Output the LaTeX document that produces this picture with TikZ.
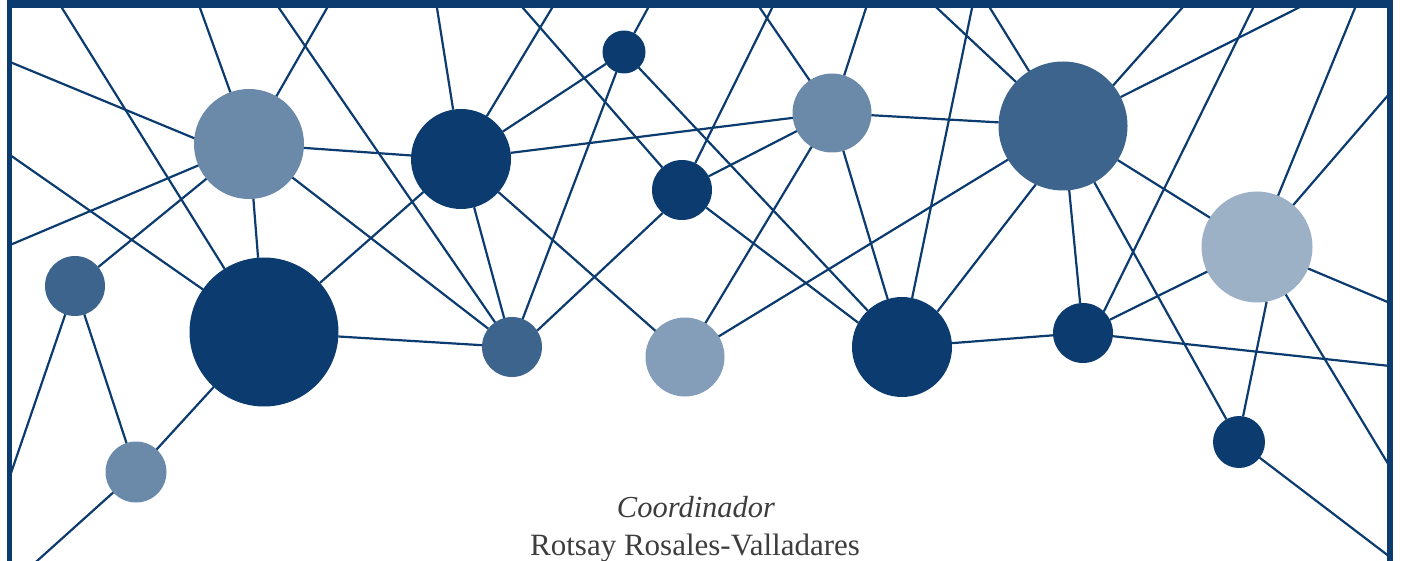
\documentclass[tikz,border=0pt]{standalone}
\usepackage{fontspec}
\setmainfont{Liberation Serif}
\definecolor{dk}{HTML}{0B3B6F}
\definecolor{md}{HTML}{3C648C}
\definecolor{lm}{HTML}{6B8AAA}
\definecolor{lt}{HTML}{849DB8}
\definecolor{xl}{HTML}{9DB1C6}
\definecolor{txt}{HTML}{3D3D3D}
\begin{document}
\begin{tikzpicture}[x=1pt,y=-1pt,
  dot/.style={circle,inner sep=0pt,outer sep=0pt,draw=none},
  ln/.style={draw=dk,line width=2.2pt},
  bl/.style={ln,shorten <=-5pt}]
\useasboundingbox (0,0) rectangle (1402,561);
% nodes
\node[dot,fill=lm,minimum size=110pt] (A) at (249,144) {};
\node[dot,fill=dk,minimum size=100pt] (B) at (461,159) {};
\node[dot,fill=dk,minimum size=43pt] (C) at (624,52) {};
\node[dot,fill=dk,minimum size=60pt] (D) at (682,190) {};
\node[dot,fill=lm,minimum size=79pt] (E) at (832,113) {};
\node[dot,fill=md,minimum size=129pt] (F) at (1063,126) {};
\node[dot,fill=xl,minimum size=111pt] (G) at (1257,247) {};
\node[dot,fill=md,minimum size=60pt] (H) at (75,286) {};
\node[dot,fill=dk,minimum size=149pt] (I) at (264,332) {};
\node[dot,fill=lm,minimum size=61pt] (J) at (136,472) {};
\node[dot,fill=md,minimum size=60pt] (K) at (512,347) {};
\node[dot,fill=lt,minimum size=79pt] (L) at (685,357) {};
\node[dot,fill=dk,minimum size=100pt] (M) at (902,347) {};
\node[dot,fill=dk,minimum size=60pt] (N) at (1083,333) {};
\node[dot,fill=dk,minimum size=52pt] (O) at (1239,442) {};
% border coordinates
\coordinate (t62) at (62,8);
\coordinate (t200) at (200,8);
\coordinate (t279) at (279,8);
\coordinate (t327) at (327,8);
\coordinate (t437) at (437,8);
\coordinate (t523) at (523,8);
\coordinate (t552) at (552,8);
\coordinate (t648) at (648,8);
\coordinate (t760) at (760,8);
\coordinate (t772) at (772,8);
\coordinate (t866) at (866,8);
\coordinate (t937) at (937,8);
\coordinate (t972) at (972,8);
\coordinate (t990) at (990,8);
\coordinate (t1182) at (1182,8);
\coordinate (t1253) at (1253,8);
\coordinate (t1298) at (1298,8);
\coordinate (t1355) at (1355,8);
\coordinate (l62) at (10,62);
\coordinate (l155) at (10,155);
\coordinate (l245) at (10,245);
\coordinate (l476) at (10,476);
\coordinate (r93) at (1390,93);
\coordinate (r303) at (1390,303);
\coordinate (r366) at (1390,366);
\coordinate (r467) at (1390,467);
\coordinate (r557) at (1390,557);
\coordinate (b37) at (37,561);
% border lines
\draw[bl] (t62) -- (I);
\draw[bl] (t200) -- (A);
\draw[bl] (t279) -- (K);
\draw[bl] (t327) -- (A);
\draw[bl] (t437) -- (B);
\draw[bl] (t523) -- (D);
\draw[bl] (t552) -- (B);
\draw[bl] (t648) -- (C);
\draw[bl] (t760) -- (E);
\draw[bl] (t772) -- (D);
\draw[bl] (t866) -- (E);
\draw[bl] (t937) -- (F);
\draw[bl] (t972) -- (M);
\draw[bl] (t990) -- (F);
\draw[bl] (t1182) -- (F.39);
\draw[bl] (t1253) -- (N.46);
\draw[bl] (t1298) -- (F);
\draw[bl] (t1355) -- (G);
\draw[ln] (l62) -- (A.174);
\draw[ln] (l155) -- (I);
\draw[ln] (l245) -- (A);
\draw[ln] (l476) -- (H);
\draw[ln] (r93) -- (G);
\draw[ln] (r303) -- (G);
\draw[ln] (r366) -- (N);
\draw[ln] (r467) -- (G);
\draw[ln] (r557) -- (O);
\draw[ln,shorten <=-12pt] (b37) -- (J);
% node-to-node lines
\draw[ln] (A) -- (B);
\draw[ln] (H) -- (A);
\draw[ln] (A) -- (I);
\draw[ln] (A) -- (K);
\draw[ln] (B) -- (I);
\draw[ln] (C) -- (B);
\draw[ln] (C) -- (K);
\draw[ln] (C) -- (M);
\draw[ln] (B) -- (E);
\draw[ln] (B) -- (L);
\draw[ln] (B) -- (K);
\draw[ln] (D) -- (E);
\draw[ln] (D.230) -- (K.33);
\draw[ln] (D.-36) -- (M.151);
\draw[ln] (E) -- (L);
\draw[ln] (E) -- (M);
\draw[ln] (E) -- (F);
\draw[ln] (L) -- (F);
\draw[ln] (F.245) -- (M.45);
\draw[ln] (F) -- (N);
\draw[ln] (F) -- (O);
\draw[ln] (F) -- (G);
\draw[ln] (G) -- (N);
\draw[ln] (O.81) -- (G.-80);
\draw[ln] (M) -- (N);
\draw[ln] (H) -- (J);
\draw[ln] (J) -- (I);
\draw[ln] (I) -- (K);
% frame
\fill[dk] (7,0) rectangle (1393,8);
\fill[dk] (7,0) rectangle (12,561);
\fill[dk] (1387,0) rectangle (1393,561);
% text
\node[text=txt,anchor=base,inner sep=0pt,font=\itshape\fontsize{30.5}{33}\selectfont] (coord) at (696,517) {Coordinador};
\node[text=txt,anchor=base,inner sep=0pt,font=\fontsize{31}{34}\selectfont] (name) at (695,555) {Rotsay Rosales-Valladares};
\end{tikzpicture}
\end{document}
